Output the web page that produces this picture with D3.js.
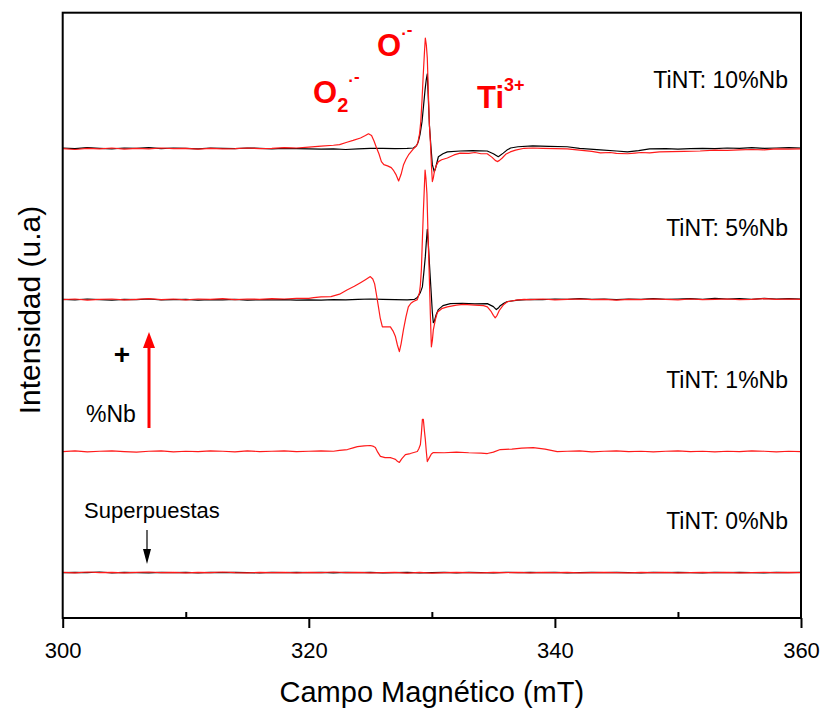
<!DOCTYPE html>
<html>
<head>
<meta charset="utf-8">
<script src="https://cdn.jsdelivr.net/npm/d3@7"></script>
<style>
  html, body { margin: 0; padding: 0; background: #fff; }
  svg { display: block; font-family: "Liberation Sans", Arial, sans-serif; }
</style>
</head>
<body>
<svg id="chart" width="824" height="708"></svg>
<script>
// EPR spectra of Nb-doped TiO2 nanotubes (TiNT), stacked by Nb content.
// Each series: [field (mT), intensity (a.u.) relative to its own baseline].

const sampleNames = ["TiNT: 0%Nb", "TiNT: 1%Nb", "TiNT: 5%Nb", "TiNT: 10%Nb"];
const sampleOffsets = [7.5, 27.5, 52.6, 77.5];

const xTicksMajor = [300, 320, 340, 360];
const xTicksMinor = [310, 330, 350];

// 10 % Nb
const red10 = [
  [300,0.05],[301,-0.1],[302,0.1],[303,0],[304,0.15],[305,-0.05],[306,0.1],[307,0],[308,0.15],[309,0.05],
  [310,0.1],[311,-0.05],[312,0.1],[313,0],[314,0.05],[315,0.15],[316,0.05],[317,0.1],[318,0.2],[319,0.15],
  [320,0.3],[321,0.45],[322,0.6],[322.5,0.7],[323.1,1.1],[323.6,1.4],[324.2,1.8],[324.6,2.2],[324.85,2.5],
  [325.1,2.2],[325.3,1.3],[325.5,0.2],[325.7,-0.8],[325.9,-2.1],[326.1,-2.6],[326.4,-2.8],[326.7,-3.1],
  [326.9,-3.6],[327.1,-4.3],[327.3,-5.3],[327.5,-4.2],[327.7,-2.6],[327.9,-1.7],[328.1,-1.0],[328.3,-0.5],
  [328.5,0],[328.7,0.4],[328.85,0.9],[329.0,2.5],[329.1,4.5],[329.2,8.0],[329.3,12.2],[329.4,16.0],
  [329.47,18.3],[329.55,17.2],[329.63,15.0],[329.72,9.0],[329.8,4.0],[329.88,1.2],[329.96,-2.5],
  [330.04,-5.4],[330.12,-4.8],[330.2,-3.8],[330.35,-2.8],[330.53,-2.1],[330.8,-1.8],[331.26,-1.5],
  [331.8,-1.0],[332.3,-0.7],[333.0,-0.75],[333.5,-0.6],[334.0,-0.8],[334.5,-0.8],[334.9,-1.4],[335.15,-1.9],
  [335.32,-2.1],[335.5,-1.9],[335.72,-1.5],[336.0,-0.9],[336.37,-0.5],[336.8,-0.2],[337.5,0.1],[338.2,0.15],
  [339,0.1],[340,0.05],[341,0],[342,-0.2],[343,-0.4],[343.7,-0.65],[344.5,-0.6],[345,-0.75],[345.9,-0.8],
  [346.5,-0.7],[347,-0.6],[347.7,-0.65],[348.5,-0.5],[349.5,-0.45],[350.5,-0.4],[351.8,-0.35],[353,-0.2],
  [354,-0.25],[355,-0.15],[356,-0.1],[357,-0.15],[358,0],[359,-0.05],[360,0]
];
const black10 = [
  [300,0.15],[301,0.05],[302,0.2],[303,0.1],[304,0],[305,0.15],[306,0.1],[307,0.2],[308,0.05],[309,0.15],
  [310,0.1],[311,0],[312,0.15],[313,0.1],[314,0.05],[315,0.15],[316,0.1],[317,0],[318,0.1],[319,0.05],
  [320,0],[321,-0.05],[322,0],[323,-0.1],[324,0],[325,0.1],[326,0.1],[327,0.05],[328,0.1],[328.5,0.15],
  [328.75,0.5],[328.9,1.2],[329.05,2.5],[329.2,4.5],[329.31,6.8],[329.45,9.8],[329.55,11.5],[329.63,12.4],
  [329.7,9.0],[329.8,4.0],[329.92,0.5],[330.04,-2.6],[330.2,-3.8],[330.3,-3.2],[330.53,-1.3],[330.9,-0.8],
  [331.26,-0.5],[332.3,-0.35],[333.3,-0.3],[334.5,-0.35],[335.0,-0.8],[335.4,-1.3],[335.8,-0.7],[336.1,-0.2],
  [336.4,0.15],[337,0.35],[338.2,0.5],[339.5,0.4],[341,0.35],[342,0.1],[343.7,-0.15],[345,-0.35],[345.9,-0.5],
  [346.8,-0.3],[347.7,0],[349,0.05],[350,-0.05],[351,0.05],[352,0.1],[353,0.05],[354,0.15],[355,0.1],
  [356,0.2],[357,0.1],[358,0.15],[359,0.2],[360,0.15]
];

// 5 % Nb
const red5 = [
  [300,0],[301,0.1],[302,-0.1],[303,0.05],[304,0.1],[305,-0.05],[306,0.05],[307,0.15],[308,0],[309,0.1],
  [310,-0.05],[311,0.1],[312,0.05],[313,0.15],[314,0],[315,0.1],[316,0.05],[317,0.15],[318,0.1],[319,0.2],
  [320,0.2],[320.4,0.33],[321,0.45],[321.8,0.5],[322.5,0.9],[323.1,1.6],[323.7,2.2],[324.2,2.8],[324.6,3.3],
  [325.0,3.8],[325.2,3.4],[325.35,2.6],[325.5,0.8],[325.66,-1.2],[325.8,-3.0],[325.98,-4.5],[326.3,-4.5],
  [326.63,-4.5],[326.85,-5.2],[327.04,-6.1],[327.2,-7.5],[327.36,-8.6],[327.5,-7.3],[327.69,-5.0],
  [327.9,-2.8],[328.09,-1.2],[328.3,-0.6],[328.5,-0.3],[328.82,0],[329.0,1.2],[329.07,2.5],[329.15,5.0],
  [329.23,9.9],[329.31,14.5],[329.39,18.5],[329.45,21.4],[329.52,20.0],[329.6,17.5],[329.7,10.0],
  [329.8,3.3],[329.88,-2.5],[329.96,-7.8],[330.04,-6.8],[330.12,-5.0],[330.3,-3.2],[330.45,-2.1],
  [330.8,-1.5],[331.26,-1.2],[332,-0.9],[332.56,-0.8],[333.5,-0.9],[334.2,-1.0],[334.51,-1.2],[334.83,-2.0],
  [335.0,-2.6],[335.15,-3.0],[335.3,-2.6],[335.48,-1.8],[335.8,-0.9],[336.13,-0.35],[336.8,-0.1],
  [337.5,0.05],[338,0],[339,0.1],[340,-0.05],[341,0.05],[342,0.1],[343,0],[344,0.05],[345,-0.1],[346,0.05],
  [347,0],[348,0.1],[349,0.05],[350,-0.05],[351,0.1],[352,0],[353,0.05],[354,0.1],[355,0],[356,0.05],
  [357,0.15],[358,0.05],[359,0.1],[360,0.05]
];
const black5 = [
  [300,0.05],[301,-0.05],[302,0.1],[303,0],[304,-0.1],[305,0.05],[306,0],[307,0.1],[308,-0.05],[309,0],
  [310,0.05],[311,-0.1],[312,0],[313,-0.05],[314,0.05],[315,-0.1],[316,0],[317,-0.05],[318,0],[319,-0.1],
  [320,-0.05],[321,-0.1],[322,0],[323,-0.05],[324,0.05],[325,0.1],[326,0.05],[327,0],[328,-0.05],
  [328.6,0.05],[328.82,0.33],[329.07,1.2],[329.23,2.1],[329.35,4.5],[329.47,7.1],[329.55,9.5],[329.63,11.6],
  [329.72,9.0],[329.8,6.1],[329.92,2.0],[330.04,-2.1],[330.12,-3.8],[330.2,-3.6],[330.35,-2.5],[330.53,-1.65],
  [330.9,-1.0],[331.5,-0.66],[332.5,-0.6],[333.5,-0.7],[334.51,-0.66],[335.0,-1.16],[335.24,-1.65],
  [335.4,-1.4],[335.56,-1.0],[335.85,-0.6],[336.13,-0.33],[337,-0.1],[338,0.05],[339,0],[340,0.1],
  [341,0.05],[342,0.15],[343,0.05],[344,0.1],[345,0],[346,0.1],[347,0.05],[348,0.15],[349,0.05],[350,0.1],
  [351,0.15],[352,0.05],[353,0.2],[354,0.1],[355,0.15],[356,0.05],[357,0.2],[358,0.1],[359,0.15],[360,0.1]
];

// 1 % Nb
const red1 = [
  [300,0],[301,0.1],[302,-0.05],[303,0.05],[304,0.1],[305,0],[306,-0.1],[307,0.05],[308,0.1],[309,-0.05],
  [310,0.05],[311,0],[312,0.1],[313,0.05],[314,-0.05],[315,0.1],[316,0],[317,0.05],[318,0.1],[319,0],
  [320,0.05],[321,0.1],[322,0.05],[322.5,0.2],[323.14,0.33],[323.6,0.6],[323.95,0.8],[324.5,0.95],
  [325.0,1.0],[325.2,0.9],[325.41,0.66],[325.6,-0.1],[325.82,-0.8],[326.2,-1.0],[326.63,-1.0],
  [326.85,-1.15],[327.04,-1.3],[327.2,-1.6],[327.36,-1.8],[327.55,-1.2],[327.85,-0.5],[328.25,-0.33],
  [328.82,0],[328.95,0.5],[329.07,1.16],[329.15,3.0],[329.23,5.3],[329.31,5.3],[329.39,3.5],[329.47,2.0],
  [329.55,0],[329.63,-1.65],[329.8,-1.0],[329.96,-0.4],[330.12,-0.16],[331,-0.2],[332,-0.1],[333,-0.2],
  [334,-0.25],[334.51,-0.33],[335.0,-0.1],[335.56,0.33],[336.5,0.4],[337.3,0.55],[338.24,0.66],
  [339.2,0.4],[340.19,0],[341,0.05],[342,0.1],[343,-0.05],[344,0.05],[345,0.1],[346,0],[347,0.05],
  [348,-0.05],[349,0.05],[350,0.1],[351,0],[352,0.05],[353,-0.05],[354,0.05],[355,0],[356,0.1],[357,0.05],
  [358,-0.05],[359,0.05],[360,0]
];

// 0 % Nb (both acquisitions overlap)
const red0 = [
  [300,0.05],[301,-0.05],[302,0.1],[303,0],[304,0.05],[305,-0.05],[306,0.05],[307,0.1],[308,0],[309,0.05],
  [310,-0.05],[311,0.05],[312,0],[313,0.1],[314,0],[315,-0.05],[316,0.05],[317,0],[318,0.05],[319,-0.05],
  [320,0.05],[321,0],[322,0.1],[323,0],[324,0.05],[325,-0.05],[326,0],[327,0.05],[328,-0.1],[329,0.05],
  [330,-0.1],[331,0],[332,0.05],[333,0],[334,-0.05],[335,0.05],[336,0],[337,0.05],[338,-0.05],[339,0.05],
  [340,0],[341,0.05],[342,-0.05],[343,0],[344,0.05],[345,0],[346,-0.05],[347,0.05],[348,0],[349,0.05],
  [350,-0.05],[351,0],[352,0.05],[353,0],[354,0.05],[355,-0.05],[356,0],[357,0.05],[358,0],[359,0.05],[360,0]
];
const black0 = [
  [300,0],[301,0.05],[302,0],[303,0.1],[304,-0.05],[305,0.05],[306,0],[307,-0.05],[308,0.05],[309,0],
  [310,0.05],[311,-0.05],[312,0.05],[313,0],[314,0.05],[315,0],[316,-0.05],[317,0.05],[318,0],[319,0.05],
  [320,0],[321,0.05],[322,-0.05],[323,0.05],[324,0],[325,0.05],[326,-0.05],[327,0],[328,0.05],[329,-0.05],
  [330,0],[331,0.05],[332,-0.05],[333,0.05],[334,0],[335,-0.05],[336,0.05],[337,0],[338,0.05],[339,0],
  [340,0.05],[341,-0.05],[342,0],[343,0.05],[344,0],[345,0.05],[346,0],[347,-0.05],[348,0.05],[349,0],
  [350,0.05],[351,0],[352,-0.05],[353,0.05],[354,0],[355,0.05],[356,0],[357,-0.05],[358,0.05],[359,0],[360,0.05]
];

// series drawn per sample: [black, red]
const seriesBySample = [
  [black0, red0],
  [null, red1],
  [black5, red5],
  [black10, red10]
];

const svg = d3.select("#chart");
const plotLeft = 62.7, plotRight = 801, plotTop = 12.7, plotBottom = 618;

const x = d3.scaleLinear().domain([300, 360]).range([plotLeft, plotRight]);
const y = d3.scaleLinear().domain([0, 100]).range([plotBottom, plotTop]);

const font = '"Liberation Sans", Arial, sans-serif';

// traces
const plot = svg.append("g");
seriesBySample.forEach((pair, i) => {
  const off = sampleOffsets[i];
  const line = d3.line().x(d => x(d[0])).y(d => y(off + d[1]));
  const colors = ["#000000", "#ff1a1a"];
  pair.forEach((s, j) => {
    if (!s) return;
    plot.append("path")
      .datum(s)
      .attr("d", line)
      .attr("fill", "none")
      .attr("stroke", colors[j])
      .attr("stroke-width", 1.2)
      .attr("stroke-linejoin", "round");
  });
});

// frame
svg.append("rect")
  .attr("x", plotLeft).attr("y", plotTop)
  .attr("width", plotRight - plotLeft).attr("height", plotBottom - plotTop)
  .attr("fill", "none").attr("stroke", "#000").attr("stroke-width", 2);

// bottom axis: major ticks outward with labels, minor ticks inward
const axisMajor = d3.axisBottom(x).tickValues(xTicksMajor).tickSize(10).tickPadding(14).tickFormat(d3.format("d"));
const gMaj = svg.append("g").attr("transform", `translate(0,${plotBottom})`).call(axisMajor);
gMaj.select(".domain").remove();
gMaj.selectAll(".tick line").attr("stroke-width", 2);
gMaj.selectAll(".tick text").attr("font-size", 22).attr("font-family", font).attr("fill", "#000");

const axisMinor = d3.axisBottom(x).tickValues(xTicksMinor).tickSize(-6).tickFormat("");
const gMin = svg.append("g").attr("transform", `translate(0,${plotBottom})`).call(axisMinor);
gMin.select(".domain").remove();
gMin.selectAll(".tick line").attr("stroke-width", 2);

// axis titles
svg.append("text")
  .attr("x", (plotLeft + plotRight) / 2).attr("y", 702)
  .attr("text-anchor", "middle").attr("font-size", 29).attr("font-family", font)
  .text("Campo Magnético (mT)");

svg.append("text")
  .attr("transform", "translate(40,310) rotate(-90)")
  .attr("text-anchor", "middle").attr("font-size", 30).attr("font-family", font)
  .text("Intensidad (u.a)");

// sample labels
const labelY = [529, 388, 236, 88];
sampleNames.forEach((name, i) => {
  svg.append("text")
    .attr("x", 788).attr("y", labelY[i])
    .attr("text-anchor", "end").attr("font-size", 23).attr("font-family", font)
    .text(name);
});

// paramagnetic species labels: main symbol, subscript and radical-anion superscript
const red = "#ff0000";
function species(tx, ty, main, sub, sup) {
  const t = svg.append("text").attr("x", tx).attr("y", ty)
    .attr("font-weight", "bold").attr("font-family", font).attr("fill", red);
  t.append("tspan").attr("font-size", 31).text(main);
  if (sub) t.append("tspan").attr("font-size", 20).attr("dy", 9).text(sub);
  if (sup) {
    const d = sub ? -26 : -17;
    t.append("tspan").attr("font-size", 17).attr("dy", d).text(sup[0]);
    if (sup.length > 1) t.append("tspan").attr("font-size", 17).attr("dy", -4).text(sup.slice(1));
  }
}
species(313, 103, "O", "2", "·-");
species(377, 56, "O", null, "·-");

svg.append("text").attr("x", 477).attr("y", 108)
  .attr("font-weight", "bold").attr("font-family", font).attr("fill", red)
  .call(t => {
    t.append("tspan").attr("font-size", 31).text("Ti");
    t.append("tspan").attr("font-size", 18).attr("dy", -17).text("3+");
  });

// increasing Nb arrow
svg.append("line")
  .attr("x1", 149).attr("y1", 428).attr("x2", 149).attr("y2", 344)
  .attr("stroke", red).attr("stroke-width", 3);
svg.append("path")
  .attr("d", "M143,348 L155,348 L149,332 Z").attr("fill", red);
svg.append("text")
  .attr("x", 122).attr("y", 364).attr("text-anchor", "middle")
  .attr("font-size", 28).attr("font-weight", "bold").attr("font-family", font)
  .text("+");
svg.append("text")
  .attr("x", 86).attr("y", 422).attr("font-size", 23).attr("font-family", font)
  .text("%Nb");

// overlap marker
svg.append("text")
  .attr("x", 84).attr("y", 518).attr("font-size", 22).attr("font-family", font)
  .text("Superpuestas");
svg.append("line")
  .attr("x1", 147).attr("y1", 530).attr("x2", 147).attr("y2", 552)
  .attr("stroke", "#000").attr("stroke-width", 1.2);
svg.append("path")
  .attr("d", "M143,549 L151,549 L147,564 Z").attr("fill", "#000");
</script>
</body>
</html>
